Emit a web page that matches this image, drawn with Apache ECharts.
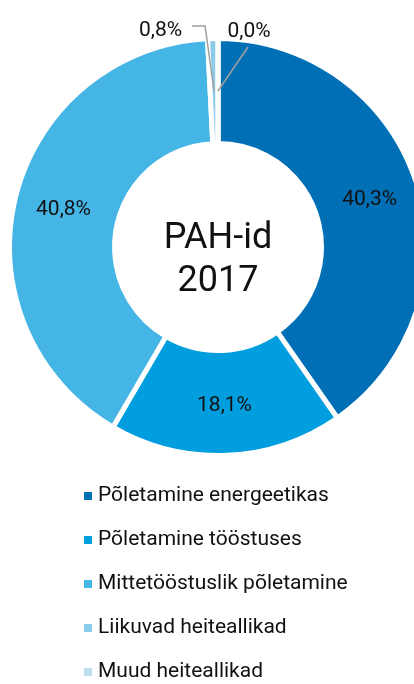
<!DOCTYPE html>
<html>
<head>
<meta charset="utf-8">
<script src="https://cdn.jsdelivr.net/npm/echarts@6/dist/echarts.min.js"></script>
<style>
  html, body { margin: 0; padding: 0; background: #fff; }
  #chart { width: 414px; height: 684px; }
</style>
</head>
<body>
<div id="chart"></div>
<script>
// PAH emissions by source, 2017 (share of total, %)
const categories = [
  'Põletamine energeetikas',
  'Põletamine tööstuses',
  'Mittetööstuslik põletamine',
  'Liikuvad heiteallikad',
  'Muud heiteallikad'
]
const shares = [40.3, 18.1, 40.8, 0.8, 0.0]
const colors = ['#006fb6', '#009ede', '#45b5e5', '#8ccbea', '#bbdbee']
const centerTitle = ['PAH-id', '2017']

const font = 'Roboto, "Noto Sans", sans-serif'
const center = [218, 247]
const gap = 5
const fmt = v => v.toFixed(1).replace('.', ',') + '%'

const chart = echarts.init(document.getElementById('chart'))

chart.setOption({
  animation: false,
  color: colors,
  legend: {
    orient: 'vertical',
    left: 82,
    top: 484,
    height: 200,
    padding: 0,
    icon: 'rect',
    itemWidth: 10,
    itemHeight: 10,
    itemGap: 20,
    selectedMode: false,
    data: categories,
    textStyle: { fontFamily: font, fontSize: 21, lineHeight: 24, color: '#111' }
  },
  graphic: [{
    type: 'text',
    x: center[0],
    y: 260,
    style: {
      text: centerTitle.join('\n'),
      align: 'center',
      verticalAlign: 'middle',
      fontFamily: font,
      fontSize: 36,
      lineHeight: 43,
      fill: '#111'
    }
  }],
  series: [{
    type: 'pie',
    center: center,
    // stroke eats half the border width on every edge
    radius: [106 - gap / 2, 206 + gap / 2],
    startAngle: 90,
    clockwise: true,
    avoidLabelOverlap: false,
    silent: true,
    itemStyle: { borderColor: '#fff', borderWidth: gap },
    label: {
      show: true,
      position: 'inside',
      fontFamily: font,
      fontSize: 21,
      color: '#111',
      padding: [4, 0, 0, 0],
      formatter: p => fmt(p.value)
    },
    labelLine: { show: false },
    data: categories.map((name, i) => ({
      name,
      value: shares[i],
      label: { show: i < 3 }
    }))
  }, {
    // invisible twin ring, only carries the leader-lined labels of the tiny slices
    type: 'pie',
    z: 10,
    center: center,
    radius: [0, 156],
    startAngle: 90,
    clockwise: true,
    avoidLabelOverlap: false,
    silent: true,
    legendHoverLink: false,
    itemStyle: { color: 'rgba(0,0,0,0)', borderWidth: 0 },
    label: {
      position: 'outside',
      fontFamily: font,
      fontSize: 21,
      color: '#111',
      formatter: p => fmt(p.value)
    },
    labelLine: {
      show: true,
      length: 40,
      length2: 12,
      lineStyle: { color: '#a0a0a0', width: 1.5 }
    },
    labelLayout: params => {
      const pts = params.labelLinePoints
      if (!pts) return
      const s = pts[0]
      if (params.dataIndex === 3) {
        const a = [s[0] - 9, s[1] - 65]
        const b = [a[0] - 13, a[1]]
        return { x: b[0] - 10, y: b[1] + 5, align: 'right', verticalAlign: 'middle', labelLinePoints: [s, a, b] }
      }
      if (params.dataIndex === 4) {
        const a = [s[0] + 30, s[1] - 44]
        return { x: a[0] + 1, y: a[1] - 15, align: 'center', verticalAlign: 'middle', labelLinePoints: [s, a, a] }
      }
    },
    data: categories.map((name, i) => ({
      name,
      value: shares[i],
      label: { show: i >= 3 },
      labelLine: { show: i >= 3 }
    }))
  }]
})
</script>
</body>
</html>
